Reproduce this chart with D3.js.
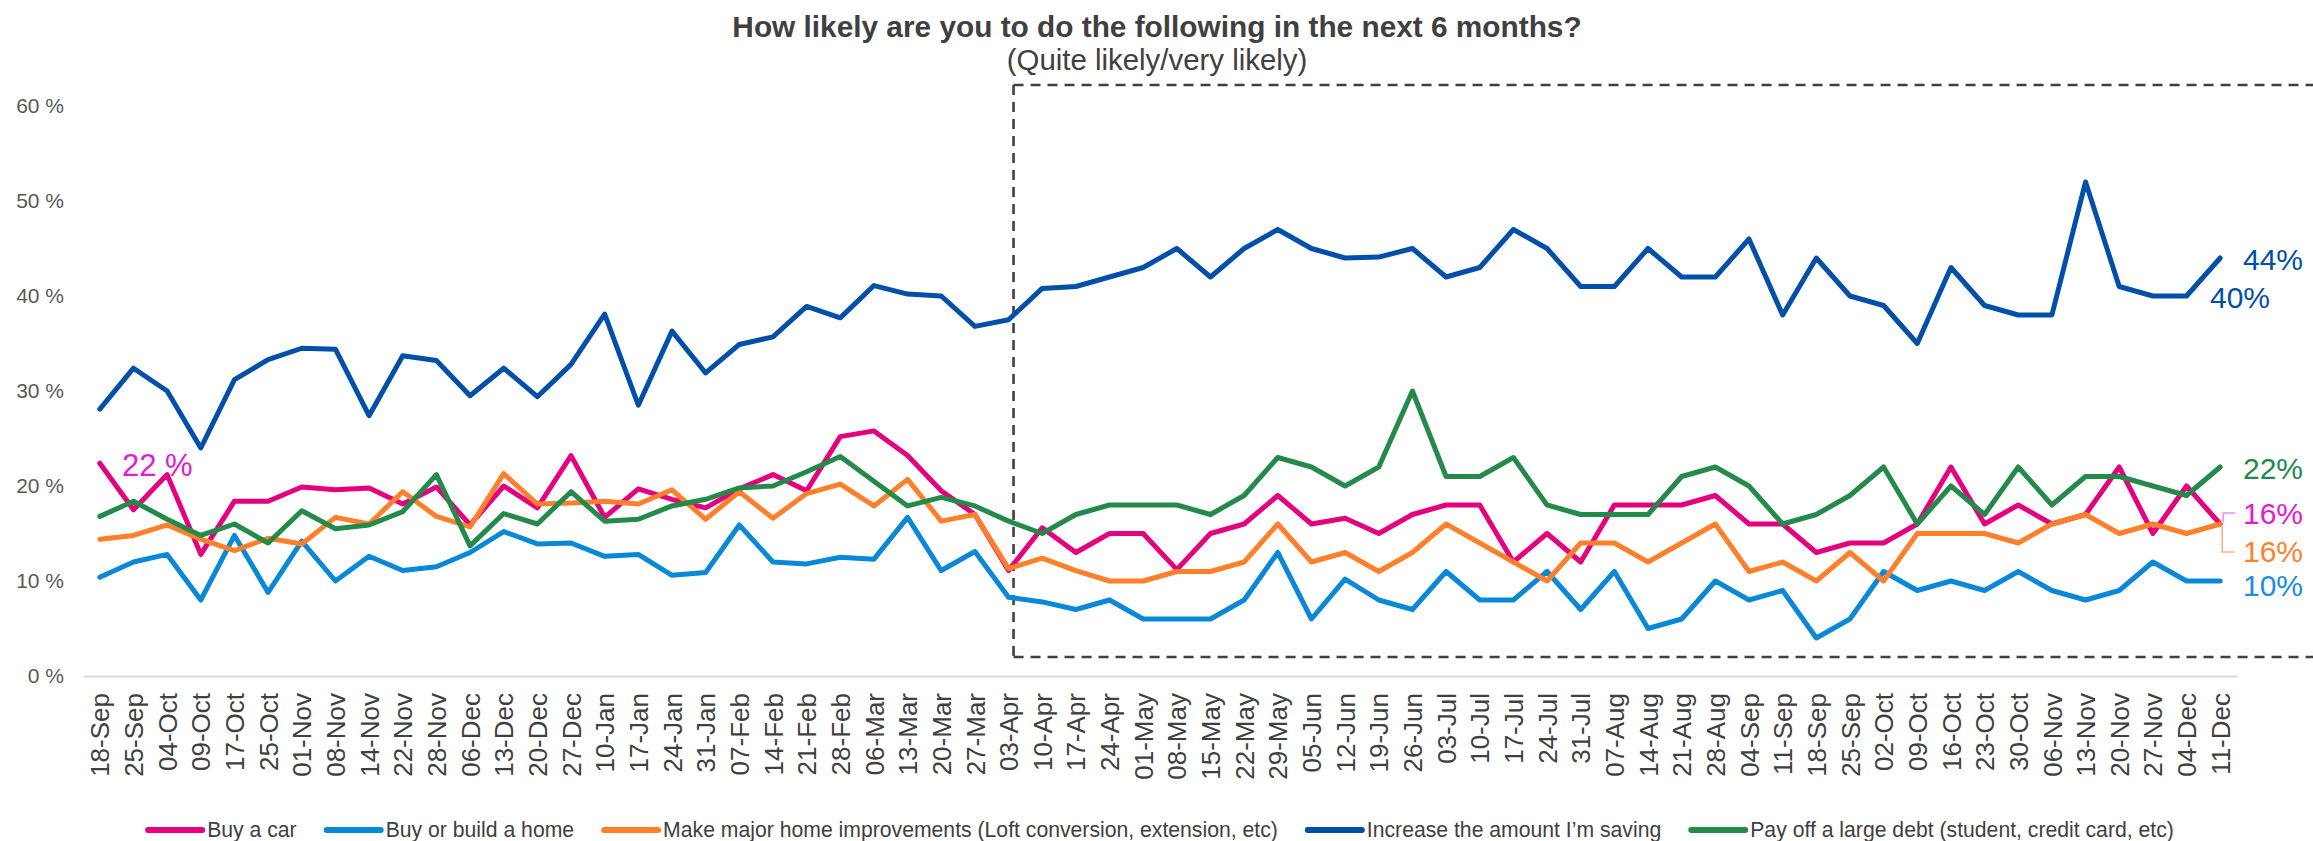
<!DOCTYPE html>
<html>
<head>
<meta charset="utf-8">
<script src="https://cdn.jsdelivr.net/npm/d3@7"></script>
<style>
  html, body { margin: 0; padding: 0; background: #ffffff; }
  svg { display: block; font-family: "Liberation Sans", Arial, sans-serif; }
</style>
</head>
<body>
<svg id="chart" width="2313" height="841"></svg>
<script>
// ---------- DATA ----------
const categories = ["18-Sep","25-Sep","04-Oct","09-Oct","17-Oct","25-Oct","01-Nov","08-Nov","14-Nov","22-Nov","28-Nov","06-Dec","13-Dec","20-Dec","27-Dec","10-Jan","17-Jan","24-Jan","31-Jan","07-Feb","14-Feb","21-Feb","28-Feb","06-Mar","13-Mar","20-Mar","27-Mar","03-Apr","10-Apr","17-Apr","24-Apr","01-May","08-May","15-May","22-May","29-May","05-Jun","12-Jun","19-Jun","26-Jun","03-Jul","10-Jul","17-Jul","24-Jul","31-Jul","07-Aug","14-Aug","21-Aug","28-Aug","04-Sep","11-Sep","18-Sep","25-Sep","02-Oct","09-Oct","16-Oct","23-Oct","30-Oct","06-Nov","13-Nov","20-Nov","27-Nov","04-Dec","11-Dec"];

const buyCar = [22.4,17.5,21.2,12.8,18.4,18.4,19.9,19.6,19.8,18.1,19.9,15.9,20.0,17.7,23.2,16.7,19.7,18.6,17.7,19.7,21.2,19.5,25.2,25.8,23.2,19.5,17.0,11.1,15.6,13,15,15,11.2,15,16,19,16,16.6,15,17,18,18,12,15,12,18,18,18,19,16,16,13,14,14,16,22,16,18,16,17,22,15,20,16];
const buyHome = [10.4,12.0,12.8,8.0,14.8,8.8,14.2,10.0,12.6,11.1,11.5,13.0,15.2,13.9,14.0,12.6,12.8,10.6,10.9,15.9,12.0,11.8,12.5,12.3,16.7,11.1,13.1,8.3,7.8,7,8,6,6,6,8,13,6,10.2,8,7,11,8,8,11,7,11,5,6,10,8,9,4,6,11,9,10,9,11,9,8,9,12,10,10];
const homeImprove = [14.4,14.8,15.9,14.4,13.2,14.5,13.9,16.7,16.0,19.4,16.8,15.7,21.3,18.1,18.2,18.4,18.1,19.6,16.5,19.4,16.6,19.2,20.2,17.9,20.7,16.3,17.0,11.3,12.4,11.1,10,10,11,11,12,16,12,13,11,13,16,14,12,10,14,14,12,14,16,11,12,10,13,10,15,15,15,14,16,17,15,16,15,16];
const saving = [28.1,32.4,30.0,24.0,31.2,33.3,34.5,34.4,27.4,33.7,33.2,29.5,32.4,29.4,32.8,38.1,28.5,36.3,31.9,34.9,35.7,38.9,37.7,41.1,40.2,40.0,36.8,37.5,40.8,41.0,42,43,45,42,45,47,45,44,44.1,45,42,43,47,45,41,41,45,42,42,46,38,44,40,39,35,43,39,38,38,52,41,40,40,44];
const payDebt = [16.8,18.4,16.5,14.8,16.0,14.0,17.4,15.5,15.9,17.3,21.2,13.7,17.1,16.0,19.4,16.3,16.5,17.9,18.6,19.8,20.0,21.5,23.1,20.5,17.9,18.8,17.9,16.3,15,17,18,18,18,17,19,23,22,20,22,30,21,21,23,18,17,17,17,21,22,20,16,17,19,22,16,20,17,22,18,21,21,20,19,22];

const seriesNames = ["Buy a car","Buy or build a home","Make major home improvements (Loft conversion, extension, etc)","Increase the amount I\u2019m saving","Pay off a large debt (student, credit card, etc)"];
const seriesValues = [buyCar, buyHome, homeImprove, saving, payDebt];
const seriesColors = ["#E4007F","#0A88D8","#FF7F2A","#0050AA","#238A4A"];

const yTicks = [0,10,20,30,40,50,60];

const titleText = "How likely are you to do the following in the next 6 months?";
const subtitleText = "(Quite likely/very likely)";

const endLabels = [
  {text:"44%", color:"#0050AA", x:2243, y:270},
  {text:"40%", color:"#0050AA", x:2210, y:308},
  {text:"22%", color:"#238A4A", x:2243, y:479},
  {text:"16%", color:"#E619D2", x:2243, y:524},
  {text:"16%", color:"#FF7F2A", x:2243, y:562},
  {text:"10%", color:"#1E8CDC", x:2243, y:596}
];

// ---------- LAYOUT ----------
const svg = d3.select("#chart");
const W = 2313, H = 841;
const plot = {left: 83, right: 2237, top: 106, bottom: 676};

svg.append("rect").attr("width", W).attr("height", H).attr("fill", "#fff");

const x = d3.scalePoint()
  .domain(d3.range(categories.length))
  .range([plot.left, plot.right])
  .padding(0.5);

const y = d3.scaleLinear().domain([0, 60]).range([plot.bottom, plot.top]);

// Title
svg.append("text")
  .attr("x", 1157).attr("y", 37)
  .attr("text-anchor", "middle")
  .style("font-size", "29.8px").style("font-weight", "bold")
  .attr("fill", "#404040")
  .text(titleText);
svg.append("text")
  .attr("x", 1157).attr("y", 70)
  .attr("text-anchor", "middle")
  .style("font-size", "29.4px")
  .attr("fill", "#404040")
  .text(subtitleText);

// Y axis
const yAxis = svg.append("g")
  .attr("transform", `translate(${plot.left},0)`)
  .call(d3.axisLeft(y).tickValues(yTicks).tickFormat(d => d + " %").tickSize(0).tickPadding(19));
yAxis.select(".domain").remove();
yAxis.selectAll("text")
  .style("font-size", "21px")
  .style("font-family", "'Liberation Sans', Arial, sans-serif")
  .attr("fill", "#595959");

// X axis
const xAxis = svg.append("g")
  .attr("transform", `translate(0,${plot.bottom})`)
  .call(d3.axisBottom(x).tickFormat(i => categories[i]).tickSize(0).tickSizeOuter(0));
xAxis.select(".domain").attr("stroke", "#D9D9D9").attr("stroke-width", 2);
xAxis.selectAll("text")
  .attr("transform", "rotate(-90)")
  .attr("x", -17).attr("y", 0).attr("dy", "0.35em")
  .style("text-anchor", "end")
  .style("font-size", "26px")
  .style("font-family", "'Liberation Sans', Arial, sans-serif")
  .attr("fill", "#404040");

// Dashed box (highlight period from 03-Apr)
const boxLeft = x(27) + 5;
const boxTop = 85, boxBottom = 657;
const dash = svg.append("g")
  .attr("stroke", "#404040").attr("stroke-width", 2.6)
  .attr("stroke-dasharray", "10,7").attr("fill", "none");
dash.append("line").attr("x1", boxLeft).attr("x2", W).attr("y1", boxTop).attr("y2", boxTop);
dash.append("line").attr("x1", boxLeft).attr("x2", W).attr("y1", boxBottom).attr("y2", boxBottom);
dash.append("line").attr("x1", boxLeft).attr("x2", boxLeft).attr("y1", boxTop).attr("y2", boxBottom);

// Lines
const line = d3.line().x((d, i) => x(i)).y(d => y(d));
seriesValues.forEach((vals, k) => {
  svg.append("path")
    .datum(vals)
    .attr("d", line)
    .attr("fill", "none")
    .attr("stroke", seriesColors[k])
    .attr("stroke-width", 5)
    .attr("stroke-linejoin", "round")
    .attr("stroke-linecap", "round");
});

// Start label
svg.append("text")
  .attr("x", 122).attr("y", 476)
  .style("font-size", "31px")
  .attr("fill", "#E619D2")
  .text("22 %");

// End labels
endLabels.forEach(l => {
  svg.append("text")
    .attr("x", l.x).attr("y", l.y)
    .style("font-size", "30px")
    .attr("fill", l.color)
    .text(l.text);
});

// Leader lines for the two 16% labels
const lastX = x(categories.length - 1);
svg.append("path")
  .attr("d", `M${lastX + 3},${y(buyCar[63]) - 2} V513 H2235`)
  .attr("fill", "none").attr("stroke", "#F58CEB").attr("stroke-width", 1.6);
svg.append("path")
  .attr("d", `M${lastX + 2},${y(homeImprove[63]) + 2} V552 H2235`)
  .attr("fill", "none").attr("stroke", "#FFB07A").attr("stroke-width", 1.6);

// Legend
const legend = svg.append("g").attr("transform", "translate(0,830)");
const items = [];
seriesNames.forEach((name, k) => {
  const g = legend.append("g");
  g.append("line").attr("x1", 0).attr("x2", 54).attr("y1", 0).attr("y2", 0)
    .attr("stroke", seriesColors[k]).attr("stroke-width", 6).attr("stroke-linecap", "round");
  const t = g.append("text").attr("x", 59).attr("y", 0).attr("dy", "0.35em")
    .style("font-size", "21.2px").attr("fill", "#404040").text(name);
  const w = 59 + t.node().getComputedTextLength();
  items.push({g, w});
});
const gap = 30;
const total = d3.sum(items, d => d.w) + gap * (items.length - 1);
let start = 1161 - total / 2;
items.forEach(it => {
  it.g.attr("transform", `translate(${start},0)`);
  start += it.w + gap;
});
</script>
</body>
</html>
